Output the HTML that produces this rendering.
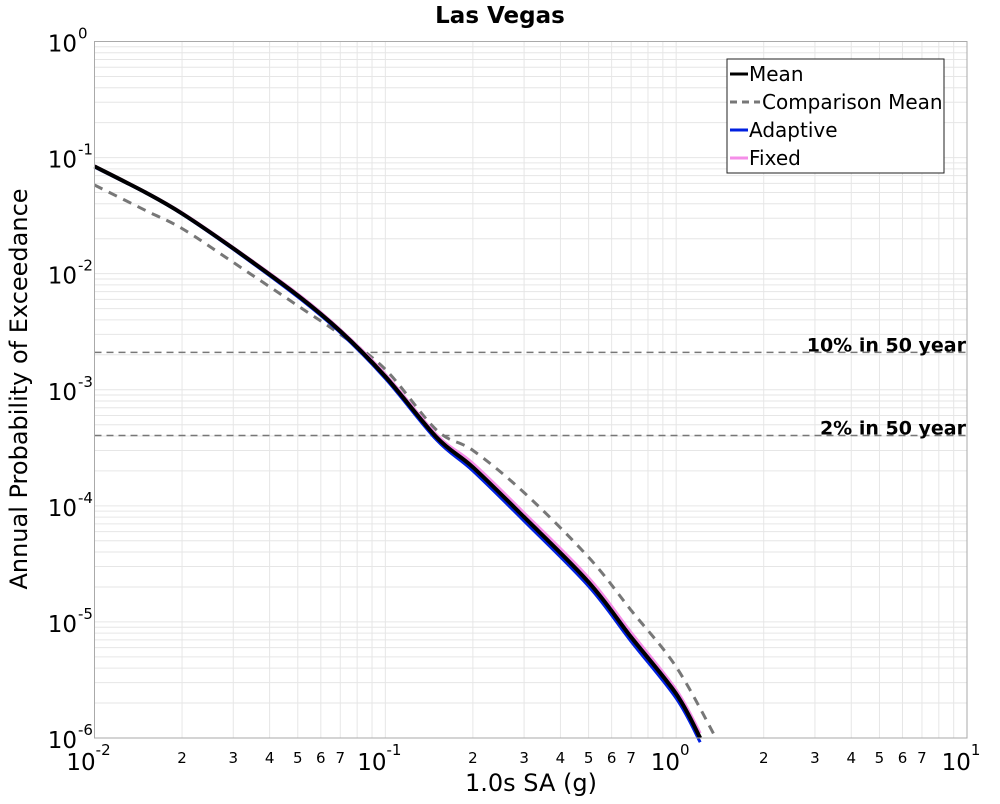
<!DOCTYPE html>
<html><head><meta charset="utf-8"><style>
body{margin:0;background:#fff;font-family:"DejaVu Sans","Liberation Sans",sans-serif;}
svg text{font-family:"DejaVu Sans","Liberation Sans",sans-serif;}
</style></head><body>
<svg id="chart" width="1000" height="800" xmlns="http://www.w3.org/2000/svg">
<g id="grid"></g>
<g id="series"></g>
<g id="axes"></g>
<text x="500" y="23" text-anchor="middle" font-size="23" font-weight="bold">Las Vegas</text>
<text x="531" y="791" text-anchor="middle" font-size="24">1.0s SA (g)</text>
<text transform="translate(27,389) rotate(-90)" text-anchor="middle" font-size="24">Annual Probability of Exceedance</text>
<g>
<rect x="727" y="59" width="217" height="114" fill="#fff" stroke="#222" stroke-width="1"/>
<line x1="730" y1="74" x2="748" y2="74" stroke="#000" stroke-width="3"/>
<text x="749" y="81" font-size="20">Mean</text>
<line x1="730" y1="102" x2="760" y2="102" stroke="#777" stroke-width="3" stroke-dasharray="7,5"/>
<text x="762" y="109" font-size="20">Comparison Mean</text>
<line x1="730" y1="130" x2="748" y2="130" stroke="#0020e0" stroke-width="3"/>
<text x="749" y="137" font-size="20">Adaptive</text>
<line x1="730" y1="158" x2="748" y2="158" stroke="#f58ee8" stroke-width="3"/>
<text x="749" y="165" font-size="20">Fixed</text>
</g>
</svg>
<script>
const xVals=[0.01,0.015,0.02,0.03,0.05,0.07,0.1,0.15,0.2,0.3,0.5,0.7,1.0,1.21];
const meanVals=[0.084,0.050,0.033,0.0165,0.0065,0.0032,0.0013,0.00039,0.000215,0.00008,0.000022,0.0000074,0.0000024,0.000001];
const adaptiveVals=[0.083,0.0495,0.0326,0.0162,0.0063,0.0031,0.00125,0.00037,0.000200,0.000074,0.0000203,0.0000068,0.0000022,0.00000092];
const fixedVals=[0.085,0.0505,0.0335,0.0168,0.0067,0.0033,0.00136,0.00041,0.000232,0.000087,0.0000240,0.0000081,0.0000026,0.0000011];
const compX=[0.01,0.015,0.02,0.03,0.05,0.07,0.1,0.15,0.2,0.3,0.5,0.7,1.0,1.37];
const compVals=[0.058,0.035,0.0245,0.0125,0.0053,0.0030,0.0015,0.00045,0.0003,0.00013,0.000036,0.0000126,0.0000041,0.000001];
const refLines=[0.0021,0.000404];
const refLabels=["10% in 50 year","2% in 50 year"];
const minorLabels=["2","3","4","5","6","7"];
const L=94.5,R=967,T=41.5,B=738;
const xs=v=>L+(Math.log10(v)+2)/3*(R-L);
const ys=v=>T+(-Math.log10(v))/6*(B-T);
const NS="http://www.w3.org/2000/svg";
function mk(p,tag,at){const e=document.createElementNS(NS,tag);for(const k in at)e.setAttribute(k,at[k]);p.appendChild(e);return e;}
const grid=document.getElementById('grid'),axes=document.getElementById('axes'),ser=document.getElementById('series');
for(let d=-2;d<1;d++)for(let m=2;m<10;m++){const v=m*Math.pow(10,d);const l=mk(grid,'line',{x1:xs(v),x2:xs(v),y1:T,y2:B,stroke:'#e6e6e6','stroke-width':1});

}
for(let d=-6;d<0;d++)for(let m=1;m<10;m++){const v=m*Math.pow(10,d);const l=mk(grid,'line',{x1:L,x2:R,y1:ys(v),y2:ys(v),stroke:'#e6e6e6','stroke-width':1});

}
for(let d=-1;d<1;d++){const l=mk(grid,'line',{x1:xs(Math.pow(10,d)),x2:xs(Math.pow(10,d)),y1:T,y2:B,stroke:'#e6e6e6'});

}
const fr=mk(axes,'rect',{x:L,y:T,width:R-L,height:B-T,fill:'none',stroke:'#aaa','stroke-width':1});


for(let d=-2;d<=1;d++){const t=mk(axes,'text',{x:xs(Math.pow(10,d))-6,y:770,'text-anchor':'middle','font-size':23});


t.innerHTML='10<tspan dy="-15" font-size="15">'+d+'</tspan>';
if(d<1)minorLabels.forEach((s,i)=>{const v=(i+2)*Math.pow(10,d);const u=mk(axes,'text',{x:xs(v),y:763,'text-anchor':'middle','font-size':15});


u.textContent=s;});}
for(let d=0;d>=-6;d--){const t=mk(axes,'text',{x:77,y:ys(Math.pow(10,d))+10,'text-anchor':'end','font-size':23});


t.textContent='10';
const s=mk(axes,'text',{x:78,y:ys(Math.pow(10,d))-3,'font-size':15});


s.textContent=String(d);}
refLines.forEach((v,i)=>{const l=mk(ser,'line',{x1:L,x2:R,y1:ys(v),y2:ys(v),stroke:'#777','stroke-width':1.5,'stroke-dasharray':'7,5'});


const t=mk(ser,'text',{x:966,y:ys(v)-1,'text-anchor':'end','font-size':19,'font-weight':'bold'});


t.textContent=refLabels[i];});
function path(X,Y,st,w,dash,name){
const P=X.map((x,i)=>[xs(x),ys(Y[i])]);
let d='M'+P[0][0].toFixed(1)+','+P[0][1].toFixed(1);
for(let i=0;i<P.length-1;i++){const p0=P[Math.max(0,i-1)],p1=P[i],p2=P[i+1],p3=P[Math.min(P.length-1,i+2)];
const c1=[p1[0]+(p2[0]-p0[0])/6,p1[1]+(p2[1]-p0[1])/6],c2=[p2[0]-(p3[0]-p1[0])/6,p2[1]-(p3[1]-p1[1])/6];
d+='C'+c1.map(v=>v.toFixed(1)).join(',')+' '+c2.map(v=>v.toFixed(1)).join(',')+' '+p2.map(v=>v.toFixed(1)).join(',');}
const p=mk(ser,'path',{d:d,fill:'none',stroke:st,'stroke-width':w,'stroke-linejoin':'round'});if(dash)p.setAttribute('stroke-dasharray',dash);

}
path(compX,compVals,'#777',3,'9,7','comparison-mean-line');
path(xVals,fixedVals,'#f58ee8',3,null,'fixed-line');
path(xVals,adaptiveVals,'#0020e0',3,null,'adaptive-line');
path(xVals,meanVals,'#000',4,null,'mean-line');
</script>
</body></html>
